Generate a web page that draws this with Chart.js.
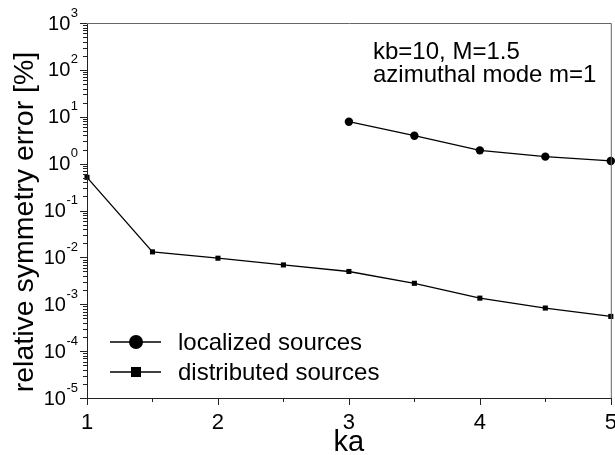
<!DOCTYPE html>
<html>
<head>
<meta charset="utf-8">
<script src="https://cdn.jsdelivr.net/npm/chart.js@4/dist/chart.umd.min.js"></script>
<style>
html,body{margin:0;padding:0;background:#fff;}
canvas{display:block;}
</style>
</head>
<body>
<canvas id="c" width="615" height="455"></canvas>
<script>
// ---- data ----
const kaValues = [1, 1.5, 2, 2.5, 3, 3.5, 4, 4.5, 5];
const distributedErr = [0.51, 0.0131, 0.0096, 0.0069, 0.0050, 0.0028, 0.00135, 0.00083, 0.00055];
const localizedKa = [3, 3.5, 4, 4.5, 5];
const localizedErr = [7.85, 3.94, 1.92, 1.41, 1.14];
const xTickLabels = [1, 2, 3, 4, 5];
const yTickExponents = [-5, -4, -3, -2, -1, 0, 1, 2, 3];
const seriesNames = ["localized sources", "distributed sources"];
const annotationLines = ["kb=10, M=1.5", "azimuthal mode m=1"];
const xTitle = "ka";
const yTitle = "relative symmetry error [%]";

const FONT = '"Liberation Sans", Arial, sans-serif';

const decorPlugin = {
  id: 'decor',
  afterDraw(chart) {
    const ctx = chart.ctx;
    const ca = chart.chartArea;
    const xs = chart.scales.x, ys = chart.scales.y;
    ctx.save();
    // frame
    ctx.strokeStyle = '#222';
    ctx.lineWidth = 1;
    ctx.beginPath();
    ctx.moveTo(ca.left + 0.5, ca.top + 0.5);
    ctx.lineTo(ca.left + 0.5, ca.bottom + 0.5);
    ctx.lineTo(ca.right + 0.5, ca.bottom + 0.5);
    ctx.stroke();
    ctx.strokeStyle = '#666';
    ctx.beginPath();
    ctx.moveTo(ca.left + 0.5, ca.top + 0.5);
    ctx.lineTo(ca.right + 0.5, ca.top + 0.5);
    ctx.lineTo(ca.right + 0.5, ca.bottom + 0.5);
    ctx.stroke();

    // y ticks (outward)
    ctx.strokeStyle = '#222';
    ctx.beginPath();
    yTickExponents.forEach((e, i) => {
      const v = Math.pow(10, e);
      const py = Math.round(ys.getPixelForValue(v)) + 0.5;
      ctx.moveTo(ca.left - 7, py); ctx.lineTo(ca.left, py);
      if (i < yTickExponents.length - 1) {
        for (let k = 2; k <= 9; k++) {
          const my = Math.round(ys.getPixelForValue(k * v)) + 0.5;
          ctx.moveTo(ca.left - 4, my); ctx.lineTo(ca.left, my);
        }
      }
    });
    // x ticks (outward)
    xTickLabels.forEach((t, i) => {
      const px = Math.round(xs.getPixelForValue(t)) + 0.5;
      ctx.moveTo(px, ca.bottom); ctx.lineTo(px, ca.bottom + 7);
      if (i < xTickLabels.length - 1) {
        const mx = Math.round(xs.getPixelForValue(t + 0.5)) + 0.5;
        ctx.moveTo(mx, ca.bottom); ctx.lineTo(mx, ca.bottom + 4);
      }
    });
    ctx.stroke();

    ctx.fillStyle = '#000';
    // y tick labels 10^e
    yTickExponents.forEach(e => {
      const py = ys.getPixelForValue(Math.pow(10, e));
      const expStr = String(e);
      ctx.font = '13px ' + FONT;
      const ew = ctx.measureText(expStr).width;
      const right = ca.left - 9;
      ctx.textAlign = 'left';
      ctx.textBaseline = 'middle';
      ctx.fillText(expStr, right - ew, py - 10);
      ctx.font = '20px ' + FONT;
      ctx.textAlign = 'right';
      ctx.fillText('10', right - ew - 0.5, py + 1);
    });
    // x tick labels
    ctx.font = '22px ' + FONT;
    ctx.textAlign = 'center';
    ctx.textBaseline = 'alphabetic';
    xTickLabels.forEach(t => {
      ctx.fillText(String(t), xs.getPixelForValue(t), ca.bottom + 31);
    });
    // x title
    ctx.font = '29px ' + FONT;
    ctx.fillText(xTitle, (ca.left + ca.right) / 2, 451);
    // y title
    ctx.save();
    ctx.translate(33, 222);
    ctx.rotate(-Math.PI / 2);
    ctx.font = '28.5px ' + FONT;
    ctx.textAlign = 'center';
    ctx.fillText(yTitle, 0, 0);
    ctx.restore();

    // annotation
    ctx.font = '24px ' + FONT;
    ctx.textAlign = 'left';
    ctx.fillText(annotationLines[0], 373, 59);
    ctx.fillText(annotationLines[1], 373, 82);

    // legend
    const legY = [342, 372];
    ctx.lineWidth = 1.3;
    ctx.strokeStyle = '#000';
    legY.forEach((y, i) => {
      ctx.beginPath();
      ctx.moveTo(110, y); ctx.lineTo(161, y);
      ctx.stroke();
      if (i === 0) {
        ctx.beginPath(); ctx.arc(136, y, 7, 0, Math.PI * 2); ctx.fill();
      } else {
        ctx.fillRect(131, y - 5, 10, 10);
      }
      ctx.font = '24px ' + FONT;
      ctx.textBaseline = 'alphabetic';
      ctx.fillText(seriesNames[i], 178, y + 8);
    });
    ctx.restore();
  }
};

new Chart(document.getElementById('c'), {
  type: 'line',
  data: {
    datasets: [
      {
        label: seriesNames[0],
        data: localizedKa.map((x, i) => ({x, y: localizedErr[i]})),
        borderColor: '#000', backgroundColor: '#000', borderWidth: 1.3,
        pointStyle: 'circle', pointRadius: 4.2, pointBorderWidth: 0,
        tension: 0, clip: false
      },
      {
        label: seriesNames[1],
        data: kaValues.map((x, i) => ({x, y: distributedErr[i]})),
        borderColor: '#000', backgroundColor: '#000', borderWidth: 1.3,
        pointStyle: 'rect', pointRadius: 3.6, pointBorderWidth: 0,
        tension: 0, clip: false
      }
    ]
  },
  options: {
    responsive: false,
    animation: false,
    layout: { padding: { top: 23, right: 4, left: 0, bottom: 0 } },
    plugins: { legend: { display: false }, tooltip: { enabled: false } },
    scales: {
      x: {
        type: 'linear', min: 1, max: 5,
        grid: { display: false }, border: { display: false },
        ticks: { display: false },
        afterFit: s => { s.height = 57; }
      },
      y: {
        type: 'logarithmic', min: 1e-5, max: 1e3,
        grid: { display: false }, border: { display: false },
        ticks: { display: false },
        afterFit: s => { s.width = 87; }
      }
    }
  },
  plugins: [decorPlugin]
});
</script>
</body>
</html>
